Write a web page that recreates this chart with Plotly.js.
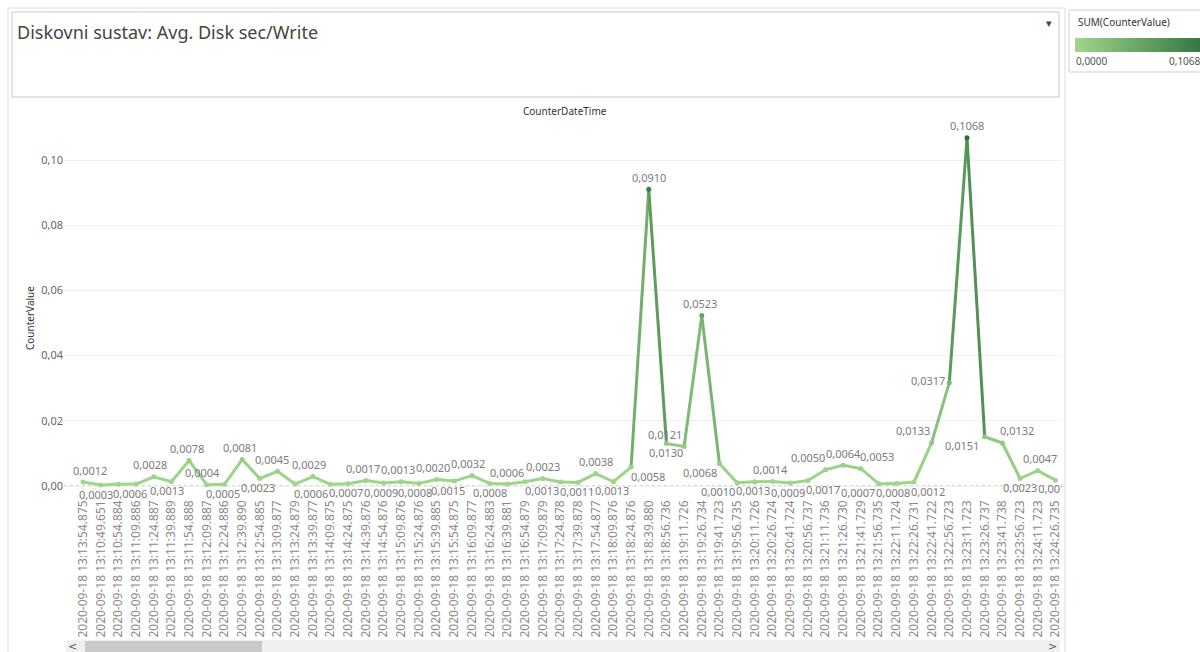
<!DOCTYPE html>
<html>
<head>
<meta charset="utf-8">
<script src="https://cdn.plot.ly/plotly-3.0.1.min.js"></script>
<style>
  html, body { margin: 0; padding: 0; background: #ffffff; }
  #chart { width: 1200px; height: 652px; }
</style>
</head>
<body>
<div id="chart"></div>
<script>
// CounterDateTime categories along the x axis
const categories = [
  "2020-09-18 13:13:54.875", "2020-09-18 13:10:49.651", "2020-09-18 13:10:54.884",
  "2020-09-18 13:11:09.886", "2020-09-18 13:11:24.887", "2020-09-18 13:11:39.889",
  "2020-09-18 13:11:54.888", "2020-09-18 13:12:09.887", "2020-09-18 13:12:24.886",
  "2020-09-18 13:12:39.890", "2020-09-18 13:12:54.885", "2020-09-18 13:13:09.877",
  "2020-09-18 13:13:24.879", "2020-09-18 13:13:39.877", "2020-09-18 13:14:09.875",
  "2020-09-18 13:14:24.875", "2020-09-18 13:14:39.876", "2020-09-18 13:14:54.876",
  "2020-09-18 13:15:09.876", "2020-09-18 13:15:24.876", "2020-09-18 13:15:39.885",
  "2020-09-18 13:15:54.875", "2020-09-18 13:16:09.877", "2020-09-18 13:16:24.883",
  "2020-09-18 13:16:39.881", "2020-09-18 13:16:54.879", "2020-09-18 13:17:09.879",
  "2020-09-18 13:17:24.878", "2020-09-18 13:17:39.878", "2020-09-18 13:17:54.877",
  "2020-09-18 13:18:09.876", "2020-09-18 13:18:24.876", "2020-09-18 13:18:39.880",
  "2020-09-18 13:18:56.736", "2020-09-18 13:19:11.726", "2020-09-18 13:19:26.734",
  "2020-09-18 13:19:41.723", "2020-09-18 13:19:56.735", "2020-09-18 13:20:11.726",
  "2020-09-18 13:20:26.724", "2020-09-18 13:20:41.724", "2020-09-18 13:20:56.737",
  "2020-09-18 13:21:11.736", "2020-09-18 13:21:26.730", "2020-09-18 13:21:41.729",
  "2020-09-18 13:21:56.735", "2020-09-18 13:22:11.724", "2020-09-18 13:22:26.731",
  "2020-09-18 13:22:41.722", "2020-09-18 13:22:56.723", "2020-09-18 13:23:11.723",
  "2020-09-18 13:23:26.737", "2020-09-18 13:23:41.738", "2020-09-18 13:23:56.723",
  "2020-09-18 13:24:11.723", "2020-09-18 13:24:26.735"
];

// SUM(CounterValue) per timestamp
const counterValues = [
  0.0012, 0.0003, 0.0005, 0.0006, 0.0028, 0.0013, 0.0078, 0.0004, 0.0005, 0.0081,
  0.0023, 0.0045, 0.0006, 0.0029, 0.0005, 0.0007, 0.0017, 0.0009, 0.0013, 0.0008,
  0.0020, 0.0015, 0.0032, 0.0008, 0.0006, 0.0013, 0.0023, 0.0012, 0.0011, 0.0038,
  0.0013, 0.0058, 0.0910, 0.0130, 0.0121, 0.0523, 0.0068, 0.0010, 0.0013, 0.0014,
  0.0009, 0.0017, 0.0050, 0.0064, 0.0053, 0.0007, 0.0008, 0.0012, 0.0133, 0.0317,
  0.1068, 0.0151, 0.0132, 0.0023, 0.0047, 0.0018
];

// y axis ticks
const yTickValues = [0, 0.02, 0.04, 0.06, 0.08, 0.10];

// value-label placement per point: [side, horizontal shift in px]
// side: 'a' above, 'b' below, 'm' beside, null = label hidden
const labelSide = [
  'a', 'b', null, 'b', 'a', 'b', 'a', 'a', 'b', 'a',
  'b', 'a', 'b', 'a', null, 'b', 'a', 'b', 'a', 'b',
  'a', 'b', 'a', 'b', 'a', 'b', 'a', null, 'b', 'a',
  'b', 'b', 'a', 'b', 'a', 'a', 'b', 'b', 'b', 'a',
  'b', 'b', 'a', 'a', 'a', 'b', 'b', 'b', 'a', 'm',
  'a', 'b', 'a', 'b', 'a', 'b'
];
const labelShift = [
    7,  -5,   0,  -6,  -4,  -4,  -2,  -4,  -1,  -2,
   -2,  -5,  16,  -4,   0,  -2,  -3,  -3,  -3,  -4,
   -4,  -6,  -4,   0,   0,  17,   0,   0,  -1,   0,
   -1,  17,   0,   0, -19,  -2, -19, -19,  -2,  -2,
   -2,  15, -18,   0,  16, -21,  -3,  14, -19, -21,
    0, -23,  15,   0,   2,   0
];

// ---- geometry (pixels) ----
const W = 1200, H = 652;
const M = { l: 64, r: 138, t: 118, b: 155 };
const plotW = W - M.l - M.r, plotH = H - M.t - M.b;
const px = x => (x - M.l) / plotW;          // pixel x -> paper x
const py = y => (H - M.b - y) / plotH;      // pixel y -> paper y

// ---- colour scale (light green -> dark green) ----
const cLow = [160, 214, 140], cHigh = [42, 108, 58];
const vMin = 0, vMax = Math.max(...counterValues);
function colorFor(v) {
  const t = Math.max(0, Math.min(1, (v - vMin) / (vMax - vMin)));
  const c = cLow.map((a, i) => Math.round(a + (cHigh[i] - a) * t));
  return `rgb(${c[0]},${c[1]},${c[2]})`;
}
const colorscale = [[0, colorFor(vMin)], [0.5, colorFor((vMin + vMax) / 2)], [1, colorFor(vMax)]];

const fmt = v => v.toFixed(4).replace('.', ',');
const idx = categories.map((_, i) => i);
const last = counterValues.length - 1;
const labelFont = { family: 'Noto Sans, sans-serif', size: 11, color: '#7b7b7b' };

const traces = [];
// line, one segment at a time so each segment carries its own shade
for (let i = 0; i < last; i++) {
  const a = counterValues[i], b = counterValues[i + 1];
  traces.push({
    type: 'scatter', mode: 'lines',
    x: [idx[i], idx[i + 1]], y: [a, b],
    line: { color: colorFor(0.6 * a + 0.4 * b), width: 3 },
    hoverinfo: 'skip', showlegend: false, cliponaxis: true
  });
}
// points; the right-most label is drawn as trace text so the plot edge clips it
traces.push({
  type: 'scatter', mode: 'markers+text',
  x: idx, y: counterValues,
  text: counterValues.map((v, i) => (i === last && labelSide[i]) ? fmt(v) : ''),
  textposition: 'bottom center',
  textfont: labelFont,
  marker: { size: 5, color: counterValues, cmin: vMin, cmax: vMax, colorscale: colorscale },
  hoverinfo: 'skip', showlegend: false, cliponaxis: true
});

const ann = (x, y, text, opts = {}) => Object.assign({
  xref: 'paper', yref: 'paper', x: px(x), y: py(y), text: text,
  showarrow: false, xanchor: 'left', yanchor: 'middle',
  font: { family: 'Noto Sans, sans-serif', size: 10, color: '#333' }
}, opts);

const annotations = [
  ann(15, 32, 'Diskovni sustav: Avg. Disk sec/Write',
      { font: { family: 'Noto Sans, sans-serif', size: 18, color: '#444' } }),
  ann(1049, 22, '▾', { xanchor: 'center', font: { size: 11, color: '#444' } }),
  ann(565, 111, 'CounterDateTime', { xanchor: 'center' }),
  ann(30, 318, 'CounterValue', { xanchor: 'center', textangle: -90 }),
  ann(1076, 22, 'SUM(CounterValue)', { font: { family: 'Noto Sans, sans-serif', size: 10, color: '#333' } }),
  ann(1074, 61, fmt(vMin), { font: { family: 'Noto Sans, sans-serif', size: 10, color: '#555' } }),
  ann(1167, 61, fmt(vMax), { font: { family: 'Noto Sans, sans-serif', size: 10, color: '#555' } }),
  ann(72, 646, '<', { xanchor: 'center', font: { family: 'DejaVu Sans', size: 11, color: '#555' } }),
  ann(1052, 646, '>', { xanchor: 'center', font: { family: 'DejaVu Sans', size: 11, color: '#555' } })
];

// value labels for every point except the clipped right-most one
counterValues.forEach((v, i) => {
  const side = labelSide[i];
  if (!side || i === last) return;
  annotations.push({
    xref: 'x', yref: 'y', x: idx[i], y: v, text: fmt(v),
    showarrow: false, xanchor: 'center', yanchor: 'middle',
    xshift: labelShift[i], yshift: side === 'a' ? 12 : side === 'b' ? -9 : 2,
    font: labelFont
  });
});

const rect = (x0, y0, x1, y1, line, fill) => ({
  type: 'rect', xref: 'paper', yref: 'paper', layer: 'below',
  x0: px(x0), x1: px(x1), y0: py(y0), y1: py(y1),
  line: line, fillcolor: fill || 'rgba(0,0,0,0)'
});

const shapes = [
  rect(8, 8, 1065, 662, { color: '#dcdcdc', width: 1 }),
  rect(12, 12, 1059, 97, { color: '#c6c6c6', width: 1 }),
  rect(1069, 10, 1215, 72, { color: '#cfcfcf', width: 1 }),
  rect(66, 640, 1060, 660, { width: 0 }, '#f0f0f0'),
  rect(85, 641, 262, 660, { width: 0 }, '#c9c9c9'),
  { type: 'line', xref: 'paper', yref: 'y', x0: 0, x1: 1, y0: 0, y1: 0,
    line: { color: '#b5b5b5', width: 1, dash: 'dot' }, layer: 'below' }
];

// colour legend strip, built from thin slices of the same scale
const stripX0 = 1075, stripX1 = 1215, slices = 70;
for (let k = 0; k < slices; k++) {
  const x0 = stripX0 + (stripX1 - stripX0) * k / slices;
  const x1 = stripX0 + (stripX1 - stripX0) * (k + 1) / slices + 0.6;
  shapes.push(rect(x0, 38, x1, 52, { width: 0 }, colorFor(vMin + (vMax - vMin) * (k + 0.5) / slices)));
}

const layout = {
  width: W, height: H,
  margin: M,
  paper_bgcolor: '#ffffff', plot_bgcolor: '#ffffff',
  separators: ',.',
  font: { family: 'Noto Sans, sans-serif', color: '#666' },
  xaxis: {
    type: 'linear',
    range: [-(83 - M.l) / 17.68, last + (1062 - 1055.4) / 17.68],
    tickmode: 'array', tickvals: idx, ticktext: categories,
    tickangle: -90, tickfont: { size: 12, color: '#8a8a8a' },
    showgrid: false, zeroline: false, showline: false, ticks: '',
    fixedrange: true
  },
  yaxis: {
    range: [-11 / 3260, (486 - M.t) / 3260],
    tickvals: yTickValues, tickformat: '.2f',
    tickfont: { size: 11, color: '#666' },
    showgrid: true, gridcolor: '#f0f0f0', gridwidth: 1,
    zeroline: false, showline: false, ticks: '',
    fixedrange: true
  },
  shapes: shapes,
  annotations: annotations,
  showlegend: false
};

Plotly.newPlot('chart', traces, layout, { displayModeBar: false, staticPlot: true });
</script>
</body>
</html>
